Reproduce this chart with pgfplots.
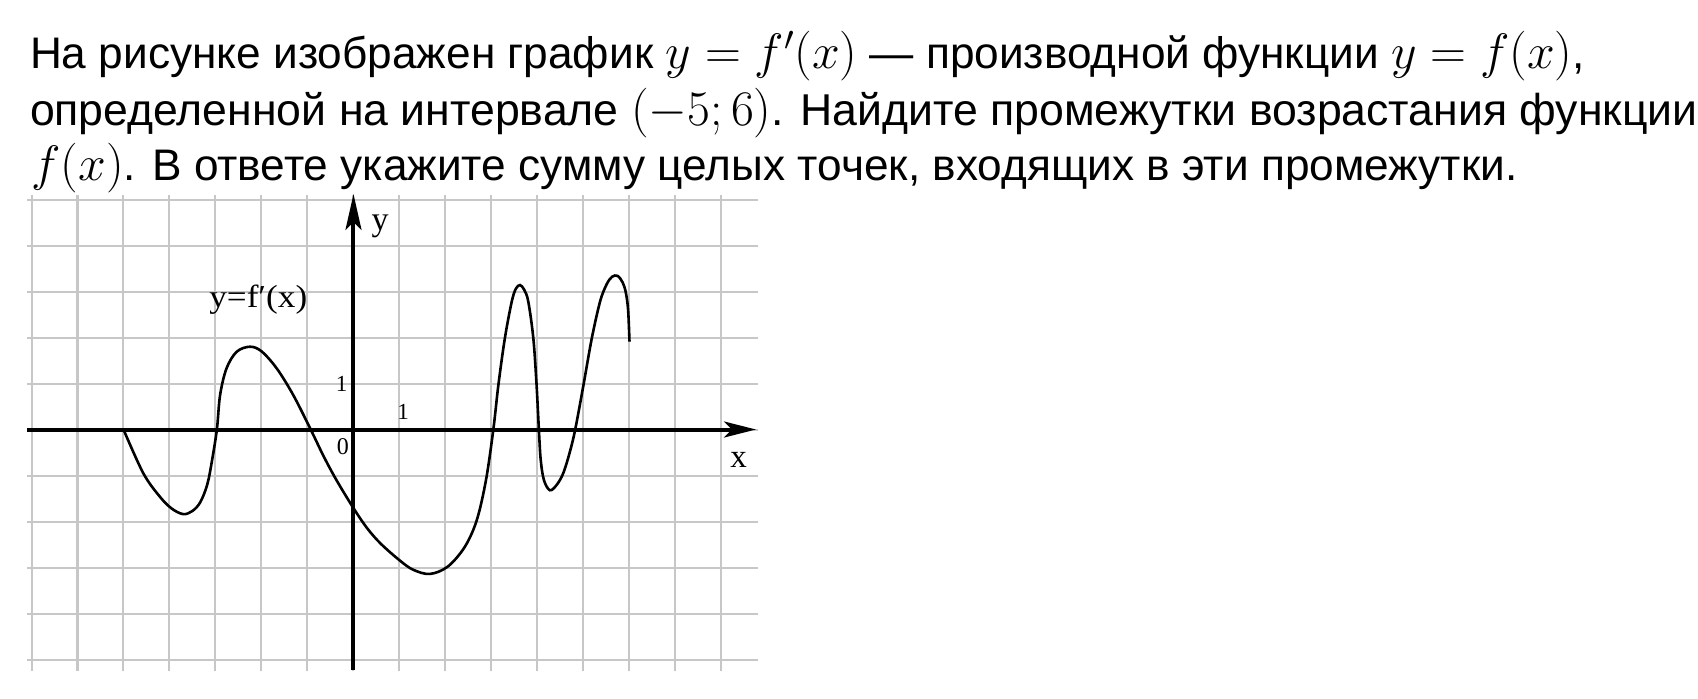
\documentclass[border=0pt]{standalone}
\usepackage[no-math]{fontspec}
\setmainfont{Liberation Sans}
\newfontfamily\serif{Liberation Serif}
\usepackage{pgfplots}
\pgfplotsset{compat=1.18}
\usetikzlibrary{arrows.meta}
\newcommand{\mA}[1]{{\fontsize{23.6pt}{27pt}\selectfont$#1$}}
\newcommand{\mB}[1]{{\fontsize{24pt}{27pt}\selectfont$#1$}}
\newcommand{\mC}[1]{{\fontsize{23.2pt}{27pt}\selectfont$#1$}}
\begin{document}
\begin{tikzpicture}
\useasboundingbox (0pt,0pt) rectangle (849pt,349pt);
\node[anchor=base west, inner sep=0pt, font=\fontsize{22.1pt}{27pt}\selectfont] at (14.8pt,314.85pt) {На рисунке изображен график \mA{y = f'(x)} — производной функции \mA{y = f(x)},};
\node[anchor=base west, inner sep=0pt, font=\fontsize{22.3pt}{27pt}\selectfont] at (14.8pt,286.5pt) {определенной на интервале \mB{(-5; 6)}. Найдите промежутки возрастания функции};
\node[anchor=base west, inner sep=0pt, font=\fontsize{22.1pt}{27pt}\selectfont] at (15.5pt,259pt) {\mC{f(x)}. В ответе укажите сумму целых точек, входящих в эти промежутки.};
\begin{axis}[
  at={(13.45pt,13.5pt)}, anchor=south west,
  scale only axis, width=365.7pt, height=238.05pt,
  xmin=-7.1, xmax=8.8, ymin=-5.25, ymax=5.1,
  xtick={-7,...,8}, ytick={-5,...,5},
  xticklabels={}, yticklabels={},
  major tick length=0pt,
  axis line style={draw=none},
  grid=major,
  grid style={draw=black!22, line width=1pt},
  clip=false,
]
\draw[line width=2pt, -{Stealth[length=16pt,width=8pt,inset=4pt]}] (axis cs:-7.1,0) -- (axis cs:8.75,0);
\draw[line width=2pt, -{Stealth[length=18pt,width=8pt,inset=4pt]}] (axis cs:0,-5.23) -- (axis cs:0,5.12);
\addplot[black, line width=1.3pt, smooth, tension=0.55] coordinates {
(-5,0) (-4.57,-0.95) (-4.21,-1.46) (-3.95,-1.72) (-3.7,-1.84) (-3.5,-1.77)
(-3.33,-1.58) (-3.18,-1.2) (-3.08,-0.7) (-2.97,0) (-2.9,0.75) (-2.76,1.33)
(-2.54,1.69) (-2.25,1.8) (-2.0,1.7) (-1.67,1.33) (-1.31,0.75) (-0.93,0) (-0.65,-0.58)
(-0.37,-1.1) (0,-1.71) (0.3,-2.15) (0.6,-2.49) (1.01,-2.85) (1.3,-3.05) (1.66,-3.14)
(2.05,-2.98) (2.42,-2.55) (2.68,-1.97) (2.88,-1.1) (3.04,0) (3.15,0.97)
(3.29,1.98) (3.44,2.78) (3.53,3.06) (3.62,3.14) (3.71,3.04) (3.80,2.78) (3.91,1.98)
(3.98,0.97) (4.03,0) (4.07,-0.66) (4.14,-1.1) (4.27,-1.32) (4.42,-1.2) (4.56,-0.95)
(4.7,-0.5) (4.82,0) (5.0,0.97) (5.18,1.98) (5.36,2.78) (5.5,3.15) (5.62,3.32)
(5.74,3.34) (5.85,3.2) (5.92,2.98) (5.97,2.6) (6.0,1.91)
};
\node[font=\serif\fontsize{17pt}{19pt}\selectfont] at (axis cs:0.58,4.42) {y};
\node[font=\serif\fontsize{16pt}{18pt}\selectfont] at (axis cs:-2.07,2.82) {\scalebox{1.1}[1]{y=f′(x)}};
\node[font=\serif\fontsize{11.5pt}{13pt}\selectfont] at (axis cs:-0.26,0.99) {1};
\node[font=\serif\fontsize{11.5pt}{13pt}\selectfont] at (axis cs:1.08,0.39) {1};
\node[font=\serif\fontsize{12pt}{13pt}\selectfont] at (axis cs:-0.23,-0.37) {0};
\node[font=\serif\fontsize{16.5pt}{18pt}\selectfont] at (axis cs:8.37,-0.66) {x};
\end{axis}
\end{tikzpicture}
\end{document}
